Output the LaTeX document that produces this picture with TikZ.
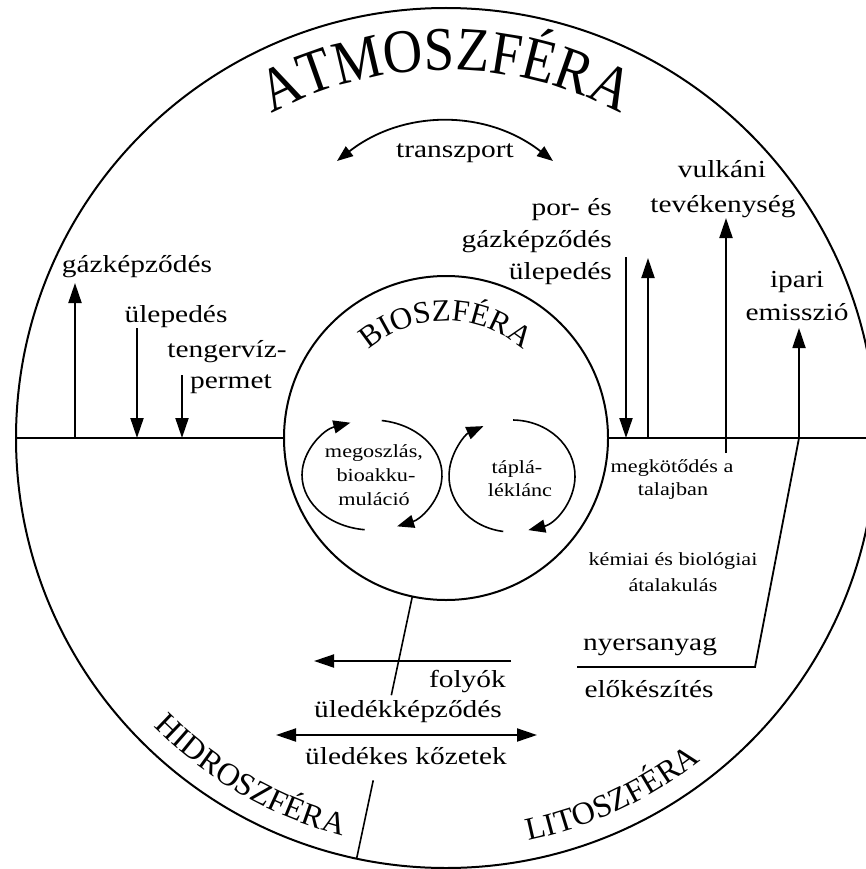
\documentclass[tikz,border=0pt]{standalone}
\usepackage{fontspec}
\setmainfont{Liberation Serif}
\newfontfamily\lblfont[FakeStretch=1.2]{Liberation Serif}
\newfontfamily\titlefont[FakeStretch=0.88]{Liberation Serif}
\usetikzlibrary{arrows.meta,decorations.text,calc}
\newcommand\atmfont{\titlefont\fontsize{62}{64}\selectfont}
\newcommand\biofont{\fontsize{31}{33}\selectfont}
\newcommand\botfont{\fontsize{32}{34}\selectfont}
\begin{document}
\begin{tikzpicture}[x=1pt,y=1pt,
  ln/.style={line width=2pt},
  thin line/.style={line width=1.6pt},
  arr/.style={line width=2pt,-{Triangle[length=20pt,width=13pt]}},
  darr/.style={line width=2pt,{Triangle[length=20pt,width=13pt]}-{Triangle[length=20pt,width=13pt]}},
  looparr/.style={line width=1.6pt,-{Triangle[length=17pt,width=13pt]}},
  lbl/.style={font=\lblfont\fontsize{24.5}{30}\selectfont,inner sep=0,anchor=base},
  sml/.style={font=\lblfont\fontsize{18.5}{24}\selectfont,inner sep=0,anchor=base}]
\useasboundingbox (0,0) rectangle (866,-869);
\coordinate (c) at (446,-438);
\node[circle,draw,line width=2pt,minimum size=860pt,inner sep=0,outer sep=0] (atm) at (c) {};
\node[circle,draw,line width=2pt,minimum size=324pt,inner sep=0,outer sep=0] (bio) at (c) {};
\draw[ln] (atm.west) -- (bio.west);
\draw[ln] (bio.east) -- (atm.east);

% curved titles
\path[decorate,decoration={text along path,text align=center,text={|\atmfont|ATMOSZFÉRA}}]
  ($(c)+(150:368)$) arc[start angle=150,end angle=30,radius=368];
\path[decorate,decoration={text along path,text align=center,text={|\biofont|BIOSZFÉRA}}]
  ($(c)+(175:117)$) arc[start angle=175,end angle=5,radius=117];
\path[decorate,decoration={text along path,text align=center,text={|\botfont|HIDROSZFÉRA}}]
  ($(c)+(200:411)$) arc[start angle=200,end angle=280,radius=411];
\path[decorate,decoration={text along path,text align=center,text={|\botfont|LITOSZFÉRA}}]
  ($(c)+(255:411)$) arc[start angle=255,end angle=335,radius=411];

% transport
\node[lbl] (transz) at (455,-158) {transzport};
\coordinate (t0) at (337,-161); \coordinate (t1) at (553,-161);
\draw[line width=1.8pt,{Triangle[length=16pt,width=12pt]}-{Triangle[length=16pt,width=12pt]}] (t0) to[bend left=38] (t1);

% left side
\node[lbl] (gazL) at (137,-272) {gázképződés};
\node[lbl] (ulepL) at (176,-322) {ülepedés};
\node[lbl] (tengL) at (227,-357) {tengervíz-};
\node[lbl] (permL) at (231,-388) {permet};
\coordinate (g0) at (75,-438); \coordinate (g1) at (75,-283);
\coordinate (u0) at (137,-328); \coordinate (u1) at (137,-438);
\coordinate (p0) at (182,-375); \coordinate (p1) at (182,-438);
\draw[arr] (g0) -- (g1);
\draw[arr] (u0) -- (u1);
\draw[arr] (p0) -- (p1);

% right side
\node[lbl,anchor=base east] (por1) at (612,-215) {por- és};
\node[lbl,anchor=base east] (por2) at (612,-247) {gázképződés};
\node[lbl,anchor=base east] (por3) at (612,-279) {ülepedés};
\node[lbl] (vulk1) at (722,-178) {vulkáni};
\node[lbl] (vulk2) at (723,-212) {tevékenység};
\node[lbl] (ip1) at (797,-287) {ipari};
\node[lbl] (ip2) at (797,-320) {emisszió};
\coordinate (r0) at (626,-257); \coordinate (r1) at (626,-438);
\coordinate (q0) at (648,-438); \coordinate (q1) at (648,-258);
\coordinate (v0) at (726,-453); \coordinate (v1) at (726,-218);
\draw[arr] (r0) -- (r1);
\draw[arr] (q0) -- (q1);
\draw[arr] (v0) -- (v1);

\node[sml] (megk1) at (672,-472) {megkötődés a};
\node[sml] (megk2) at (673,-495) {talajban};
\node[sml] (kem1) at (673,-565) {kémiai és biológiai};
\node[sml] (kem2) at (673,-591) {átalakulás};
\node[lbl] (nyers) at (650,-650) {nyersanyag};
\node[lbl] (elok) at (649,-697) {előkészítés};
\coordinate (n0) at (577,-667); \coordinate (n1) at (755,-667);
\coordinate (n2) at (799,-438); \coordinate (n3) at (799,-328);
\draw[line width=1.8pt,-{Triangle[length=20pt,width=13pt]}] (n0) -- (n1) -- (n2) -- (n3);

% bottom middle
\node[lbl,anchor=base east] (folyok) at (506,-687) {folyók};
\node[lbl] (uledk) at (408,-717) {üledékképződés};
\node[lbl] (uledkoz) at (406,-764) {üledékes kőzetek};
\coordinate (f0) at (511,-661); \coordinate (f1) at (314,-661);
\draw[arr] (f0) -- (f1);
\coordinate (d0) at (276,-735); \coordinate (d1) at (537,-735);
\draw[darr] (d0) -- (d1);
\coordinate (cut1) at ($(c)+(258:263)$);
\coordinate (cut2) at ($(c)+(258:350)$);
\draw[thin line] (bio.258) -- (cut1);
\draw[thin line] (cut2) -- (atm.258);

% loops inside biosphere
\node[sml] (meg1) at (374,-457) {megoszlás,};
\node[sml] (meg2) at (376,-481) {bioakku-};
\node[sml] (meg3) at (374,-505) {muláció};
\node[sml] (tap1) at (517,-473) {táplá-};
\node[sml] (tap2) at (520,-496) {léklánc};
\coordinate (lc) at (372,-475);
\coordinate (rc) at (512,-476);
\draw[looparr] ($(lc)+(264:70pt and 55pt)$) arc[start angle=264,end angle=108,x radius=70,y radius=55];
\draw[looparr] ($(lc)+(82:70pt and 55pt)$) arc[start angle=82,end angle=-69,x radius=70,y radius=55];
\draw[looparr] ($(rc)+(262:63pt and 56pt)$) arc[start angle=262,end angle=117,x radius=63,y radius=56];
\draw[looparr] ($(rc)+(89:63pt and 56pt)$) arc[start angle=89,end angle=-75,x radius=63,y radius=56];
\end{tikzpicture}
\end{document}
